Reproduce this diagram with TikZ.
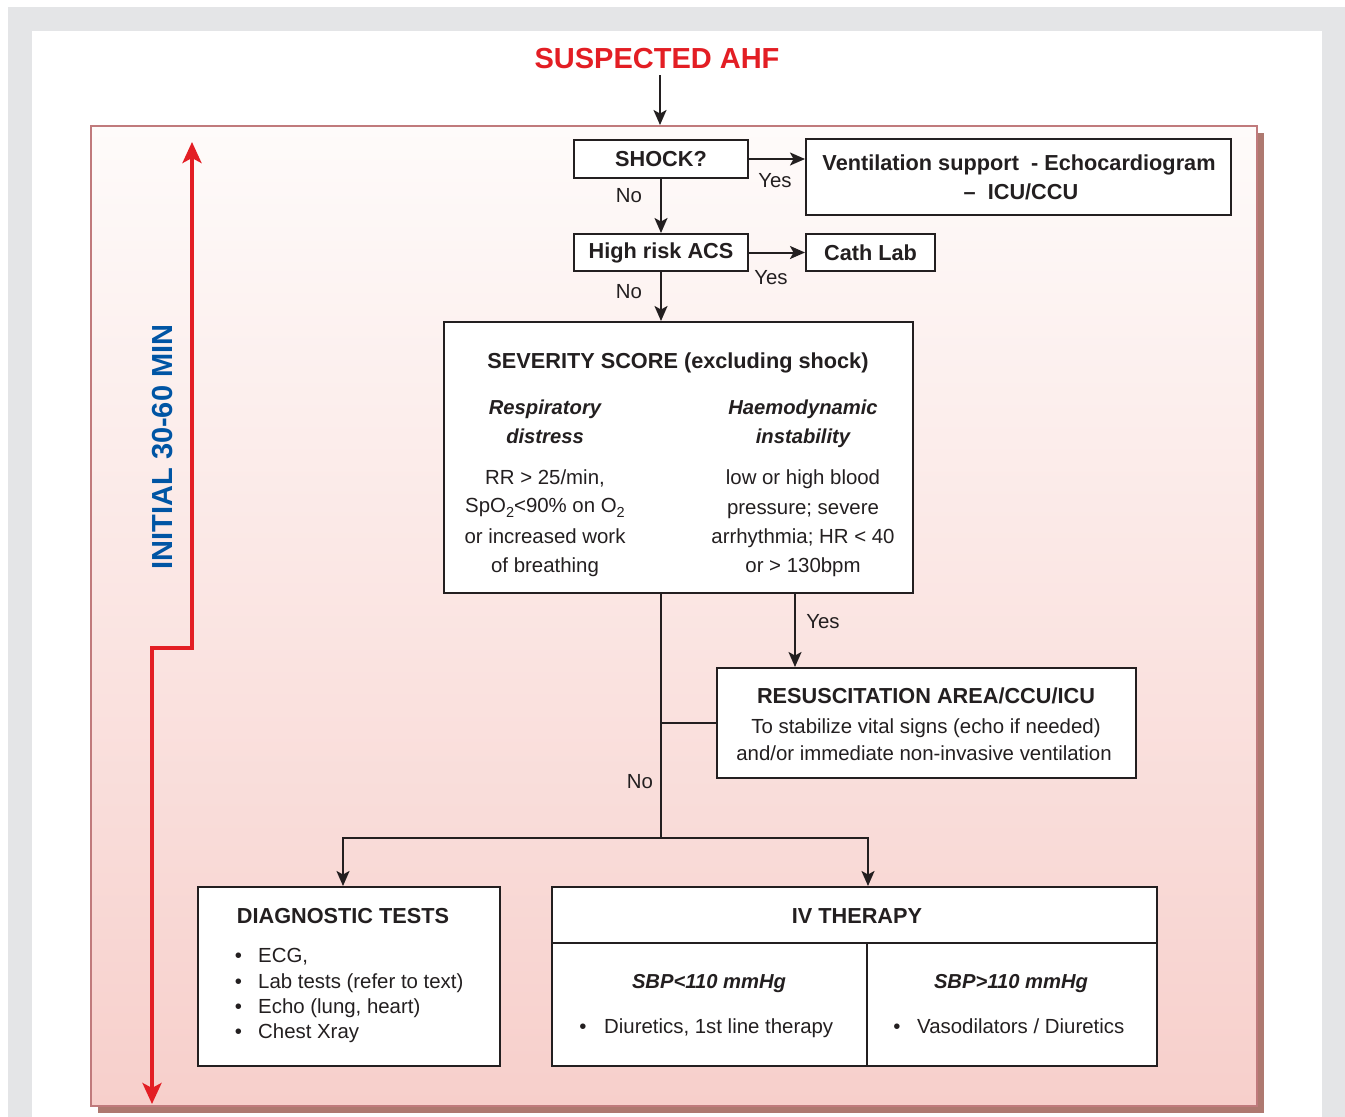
\documentclass[tikz,border=0pt]{standalone}
\usepackage{fontspec}
\setmainfont{Liberation Sans}
\usetikzlibrary{arrows.meta}
\definecolor{bggray}{RGB}{228,229,231}
\definecolor{framec}{RGB}{192,122,124}
\definecolor{shadowc}{RGB}{174,121,112}
\definecolor{pinktop}{RGB}{254,251,250}
\definecolor{pinkbot}{RGB}{247,207,203}
\definecolor{ahfred}{RGB}{227,30,36}
\definecolor{ahfblue}{RGB}{0,85,164}
\definecolor{ink}{RGB}{35,31,32}
\newcommand\myreg{\fontsize{20.4}{24}\selectfont}
\newcommand\mybold{\fontsize{21.7}{26}\selectfont\bfseries}
\newcommand\myit{\fontsize{20.2}{24}\selectfont\bfseries\itshape}
\newcommand\mybig{\fontsize{29}{34}\selectfont\bfseries}
\newcommand\mysub[1]{\raisebox{-5pt}{\fontsize{14.5}{15}\selectfont #1}}
\begin{document}
\begin{tikzpicture}[x=1pt,y=-1pt,
  box/.style={draw=ink, line width=2pt, fill=white, inner sep=0pt, text=ink, font=\mybold},
  lbl/.style={inner sep=0pt, anchor=base, text=ink, font=\myreg},
  bul/.style={inner sep=0pt, anchor=base west, text=ink, font=\myreg},
  arr/.style={draw=ink, line width=2pt, -{Stealth[length=15pt,width=13pt,inset=3.5pt]}},
  ln/.style={draw=ink, line width=2pt},
  redarr/.style={draw=ahfred, line width=3.6pt, {Stealth[length=21pt,width=19pt,inset=5pt]}-{Stealth[length=21pt,width=19pt,inset=5pt]}}
]
\useasboundingbox (0,0) rectangle (1345,1117);
% page background
\fill[white] (0,0) rectangle (1345,1117);
\fill[bggray] (8,7) rectangle (1345,1117);
\fill[white] (32,31) rectangle (1322,1117);
% pink frame with shadow
\fill[shadowc] (98,133) rectangle (1264,1113);
\shade[top color=pinktop, bottom color=pinkbot] (91,126) rectangle (1257,1106);
\draw[framec, line width=2pt] (91,126) rectangle (1257,1106);

% title
\node[text=ahfred, font=\mybig, inner sep=0pt, anchor=base] (title) at (657,68) {SUSPECTED AHF};
\coordinate (frametop) at (660,125);
\draw[arr, shorten <=7pt] (title.south -| frametop) -- (frametop);

% red time arrow
\coordinate (rtop) at (192,142);
\coordinate (rbot) at (152,1104);
\coordinate (rmidl) at (152,648);
\coordinate (rmidr) at (192,648);
\draw[redarr] (rbot) -- (rmidl) -- (rmidr) -- (rtop);
\node[rotate=90, text=ahfblue, font=\mybig, inner sep=0pt] (initial) at (163,447) {INITIAL 30-60 MIN};

% boxes
\node[box, minimum width=174pt, minimum height=38pt] (shock) at (661,159) {SHOCK?};
\node[box, minimum width=425pt, minimum height=76pt] (vent) at (1018.5,177) {};
\node[lbl, font=\mybold] (vent1) at (1019,170) {Ventilation support\ \ - Echocardiogram};
\node[lbl, font=\mybold] (vent2) at (1021,199) {–\ \ ICU/CCU};
\node[box, minimum width=174pt, minimum height=37pt] (hr) at (661,252.5) {High risk ACS};
\node[box, minimum width=129pt, minimum height=37pt] (cath) at (870.5,252.5) {Cath Lab};

\node[box, minimum width=469pt, minimum height=271pt] (sev) at (678.5,457.5) {};
\node[lbl, font=\mybold] (sevt) at (678,368) {SEVERITY SCORE (excluding shock)};
\node[lbl, font=\myit] (resp1) at (545,414) {Respiratory};
\node[lbl, font=\myit] (resp2) at (545,443) {distress};
\node[lbl, font=\myit] (haem1) at (803,414) {Haemodynamic};
\node[lbl, font=\myit] (haem2) at (803,443) {instability};
\node[lbl] (l1) at (545,484) {RR > 25/min,};
\node[lbl] (l2) at (545,512) {SpO\mysub{2}<90\% on O\mysub{2}};
\node[lbl] (l3) at (545,543) {or increased work};
\node[lbl] (l4) at (545,572) {of breathing};
\node[lbl] (r1) at (803,484) {low or high blood};
\node[lbl] (r2) at (803,514) {pressure; severe};
\node[lbl] (r3) at (803,543) {arrhythmia; HR < 40};
\node[lbl] (r4) at (803,572) {or > 130bpm};

\node[box, minimum width=419pt, minimum height=110pt] (resus) at (926.5,723) {};
\node[lbl, font=\mybold] (rest) at (926,703) {RESUSCITATION AREA/CCU/ICU};
\node[lbl] (res1) at (926,733) {To stabilize vital signs (echo if needed)};
\node[lbl] (res2) at (924,760) {and/or immediate non-invasive ventilation};

\node[box, minimum width=302pt, minimum height=179pt] (diag) at (349,976.5) {};
\node[lbl, font=\mybold] (diagt) at (343,923) {DIAGNOSTIC TESTS};
\node[lbl] (db1) at (238.5,962) {•};
\node[bul] (dt1) at (258,962) {ECG,};
\node[lbl] (db2) at (238.5,988) {•};
\node[bul] (dt2) at (258,988) {Lab tests (refer to text)};
\node[lbl] (db3) at (238.5,1013) {•};
\node[bul] (dt3) at (258,1013) {Echo (lung, heart)};
\node[lbl] (db4) at (238.5,1038) {•};
\node[bul] (dt4) at (258,1038) {Chest Xray};

\node[box, minimum width=605pt, minimum height=179pt] (iv) at (854.5,976.5) {};
\coordinate (ivh) at (0,943);
\coordinate (ivv) at (867,0);
\draw[ln] (iv.west |- ivh) -- (iv.east |- ivh);
\draw[ln] (ivv |- ivh) -- (ivv |- iv.south);
\node[lbl, font=\mybold] (ivt) at (857,923) {IV THERAPY};
\node[lbl, font=\myit] (sbpl) at (709,988) {SBP<110 mmHg};
\node[lbl, font=\myit] (sbpr) at (1011,988) {SBP>110 mmHg};
\node[lbl] (ib1) at (583,1033) {•};
\node[bul] (it1) at (604,1033) {Diuretics, 1st line therapy};
\node[lbl] (ib2) at (897,1033) {•};
\node[bul] (it2) at (917,1033) {Vasodilators / Diuretics};

% connectors
\draw[arr] (shock.east) -- (shock.east -| vent.west);
\node[lbl] (yes1) at (775,187) {Yes};
\draw[arr] (shock.south) -- (hr.north);
\node[lbl] (no1) at (629,202) {No};
\draw[arr] (hr.east) -- (cath.west);
\node[lbl] (yes2) at (771,284) {Yes};
\draw[arr] (hr.south) -- (hr.south |- sev.north);
\node[lbl] (no2) at (629,298) {No};

\coordinate (yesx) at (795,0);
\draw[arr] (sev.south -| yesx) -- (resus.north -| yesx);
\node[lbl] (yes3) at (823,628) {Yes};

\coordinate (junction) at (661,838);
\coordinate (jl) at (343,838);
\coordinate (jr) at (868,838);
\draw[ln] (sev.south -| junction) -- (junction);
\draw[ln] (resus.west -| junction) -- (resus.west);
\node[lbl] (no3) at (640,788) {No};
\draw[arr] (junction) -- (jl) -- (jl |- diag.north);
\draw[arr] (junction) -- (jr) -- (jr |- iv.north);
\end{tikzpicture}
\end{document}
